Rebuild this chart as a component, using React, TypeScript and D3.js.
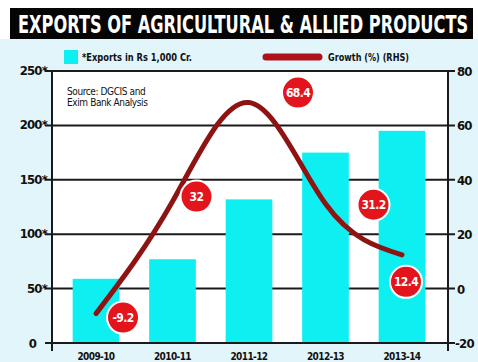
import React, { useLayoutEffect, useRef, useState } from "react";
import * as d3 from "d3";

const categories = ["2009-10", "2010-11", "2011-12", "2012-13", "2013-14"];
const exportsValues = [59, 77, 132, 175, 195];
const growthValues = [-9.2, 32, 68.4, 31.2, 12.4];
const growthLabels = ["-9.2", "32", "68.4", "31.2", "12.4"];
const leftTicks = [0, 50, 100, 150, 200, 250];
const leftTickLabels = ["0", "50*", "100*", "150*", "200*", "250*"];
const rightTicks = [-20, 0, 20, 40, 60, 80];
const rightTickLabels = ["-20", "0", "20", "40", "60", "80"];
const titleText = "EXPORTS OF AGRICULTURAL & ALLIED PRODUCTS";

const W = 478;
const H = 362;
const COND = "'DejaVu Sans Condensed', 'DejaVu Sans', sans-serif";

export default function App() {
  const plotL = 52;
  const plotR = 448;
  const plotT = 71;
  const plotB = 343;

  const titleRef = useRef<SVGTextElement>(null);
  const [titleScale, setTitleScale] = useState(0.7);
  useLayoutEffect(() => {
    if (titleRef.current) {
      const w = titleRef.current.getComputedTextLength();
      if (w > 0) setTitleScale(450 / w);
    }
  }, []);

  const x = d3
    .scaleBand<string>()
    .domain(categories)
    .range([57.75, 440.25])
    .paddingInner(0.39)
    .paddingOuter(0.195);
  const yL = d3.scaleLinear().domain([0, 250]).range([plotB, plotT]);
  const yR = d3.scaleLinear().domain([-20, 80]).range([plotB, plotT]);

  const cx = (c: string) => (x(c) as number) + x.bandwidth() / 2;

  const line = d3
    .line<number>()
    .x((_, i) => cx(categories[i]))
    .y((v) => yR(v))
    .curve(d3.curveNatural);

  // label offsets relative to the data point (annotation placement)
  const labelOffsets: [number, number][] = [
    [27, 4],
    [24, -5],
    [49, -10],
    [48, 1],
    [4, 27],
  ];

  return (
    <svg
      width={W}
      height={H}
      style={{ position: "absolute", left: 0, top: 0, display: "block" }}
    >
      <rect x={0} y={0} width={W} height={H} fill="#ffffff" />
      <rect x={0} y={39} width={W} height={H - 39} fill="#e2f5fa" />
      {/* title */}
      <rect x={10} y={8} width={463} height={31} fill="#050505" />
      <g transform={`translate(18,33) scale(${titleScale},1)`}>
        <text
          ref={titleRef}
          x={0}
          y={0}
          fill="#ffffff"
          fontFamily={COND}
          fontWeight="bold"
          fontSize={25}
        >
          {titleText}
        </text>
      </g>

      {/* legend */}
      <rect x={64} y={50} width={14} height={14} fill="#0eeff2" />
      <text
        x={82}
        y={61}
        fontFamily={COND}
        fontWeight="bold"
        fontSize={10.5}
        fill="#111"
        textLength={110}
        lengthAdjust="spacingAndGlyphs"
      >
        *Exports in Rs 1,000 Cr.
      </text>
      <line
        x1={266}
        x2={319}
        y1={57}
        y2={57}
        stroke="#b0121a"
        strokeWidth={7}
        strokeLinecap="round"
      />
      <text
        x={328}
        y={61}
        fontFamily={COND}
        fontWeight="bold"
        fontSize={10.5}
        fill="#111"
        textLength={81}
        lengthAdjust="spacingAndGlyphs"
      >
        Growth (%) (RHS)
      </text>

      {/* plot area */}
      <rect
        x={plotL}
        y={plotT}
        width={plotR - plotL}
        height={plotB - plotT}
        fill="#ffffff"
      />

      {/* gridlines */}
      {leftTicks.map((t) => (
        <line
          key={"g" + t}
          x1={45}
          x2={455}
          y1={yL(t)}
          y2={yL(t)}
          stroke="#1a1a1a"
          strokeWidth={2}
        />
      ))}

      {/* bars */}
      {categories.map((c, i) => (
        <rect
          key={c}
          x={x(c)}
          y={yL(exportsValues[i])}
          width={x.bandwidth()}
          height={yL(0) - yL(exportsValues[i])}
          fill="#0eeff2"
        />
      ))}

      {/* baseline and axes */}
      <line x1={45} x2={455} y1={plotB} y2={plotB} stroke="#1a1a1a" strokeWidth={2} />
      <line x1={plotL} x2={plotL} y1={plotT} y2={351} stroke="#1a1a1a" strokeWidth={2} />
      <line x1={plotR} x2={plotR} y1={plotT} y2={351} stroke="#1a1a1a" strokeWidth={2} />

      {/* left tick labels */}
      {leftTicks.map((t, i) => (
        <text
          key={"l" + t}
          x={t === 0 ? 36 : 47}
          y={yL(t) + (t === 0 ? 5 : 4)}
          textAnchor="end"
          fontFamily={COND}
          fontWeight="bold"
          fontSize={13}
          fill="#111"
          letterSpacing={-0.8}
        >
          {leftTickLabels[i]}
        </text>
      ))}
      {/* right tick labels */}
      {rightTicks.map((t, i) => (
        <text
          key={"r" + t}
          x={t < 0 ? 455 : 457}
          y={yR(t) + 5}
          textAnchor="start"
          fontFamily={COND}
          fontWeight="bold"
          fontSize={13}
          fill="#111"
          letterSpacing={-0.8}
        >
          {rightTickLabels[i]}
        </text>
      ))}

      {/* category labels */}
      {categories.map((c) => (
        <text
          key={"c" + c}
          x={cx(c)}
          y={360}
          textAnchor="middle"
          fontFamily={COND}
          fontWeight="bold"
          fontSize={10}
          fill="#111"
          letterSpacing={-0.6}
        >
          {c}
        </text>
      ))}

      {/* source */}
      <text
        x={67}
        y={95}
        fontFamily={COND}
        fontSize={10}
        fill="#111"
        letterSpacing={-0.4}
      >
        <tspan x={67} dy={0}>Source: DGCIS and</tspan>
        <tspan x={67} dy={11}>Exim Bank Analysis</tspan>
      </text>

      {/* growth line */}
      <path
        d={line(growthValues) || ""}
        fill="none"
        stroke="#8e1414"
        strokeWidth={5}
        strokeLinecap="round"
      />

      {/* growth labels */}
      {growthValues.map((v, i) => {
        const px = cx(categories[i]) + labelOffsets[i][0];
        const py = yR(v) + labelOffsets[i][1];
        return (
          <g key={"b" + i}>
            <circle cx={px} cy={py} r={16} fill="#e3141c" stroke="#ffffff" strokeWidth={2} />
            <text
              x={px}
              y={py + 4.5}
              textAnchor="middle"
              fontFamily={COND}
              fontWeight="bold"
              fontSize={12}
              fill="#ffffff"
              letterSpacing={-0.6}
            >
              {growthLabels[i]}
            </text>
          </g>
        );
      })}
    </svg>
  );
}
